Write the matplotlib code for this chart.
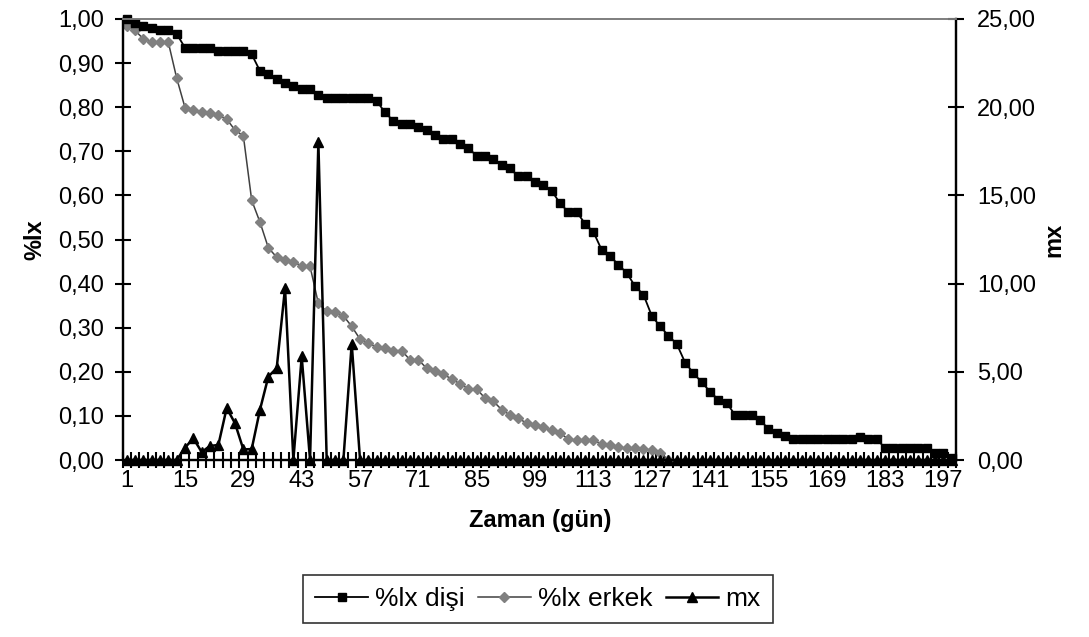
import numpy as np
import matplotlib
matplotlib.use("Agg")
import matplotlib.pyplot as plt
from matplotlib.ticker import FixedLocator, FuncFormatter

plt.rcParams['font.family'] = ['Liberation Sans', 'DejaVu Sans']

# categories: days 1,3,5,...,199
days = list(range(1, 200, 2))

lx_disi = [1.000, 0.990, 0.985, 0.980, 0.975, 0.975, 0.966,
           0.935, 0.935, 0.935, 0.935,
           0.928, 0.928, 0.928, 0.928,
           0.920, 0.882, 0.875, 0.864, 0.856, 0.848, 0.842, 0.842, 0.827,
           0.820, 0.820, 0.820, 0.820, 0.820, 0.820,
           0.814, 0.788, 0.769, 0.761, 0.761, 0.755, 0.748, 0.736, 0.729, 0.729,
           0.716, 0.708, 0.689, 0.689, 0.682, 0.670, 0.661, 0.643, 0.643, 0.630,
           0.623, 0.610, 0.582, 0.562, 0.562, 0.536, 0.517, 0.476, 0.462, 0.443,
           0.424, 0.394, 0.375, 0.327, 0.303, 0.282, 0.263, 0.221, 0.197, 0.176,
           0.155, 0.136, 0.129, 0.102, 0.102, 0.102, 0.091, 0.070, 0.062, 0.055,
           0.047, 0.047, 0.047, 0.047, 0.047, 0.047, 0.047, 0.047,
           0.053, 0.047, 0.047,
           0.027, 0.027, 0.027, 0.027, 0.027, 0.027,
           0.016, 0.016, 0.005]

lx_erkek = [0.983, 0.974, 0.955, 0.947, 0.947, 0.947, 0.866, 0.799, 0.793, 0.788,
            0.786, 0.782, 0.773, 0.748, 0.735, 0.589, 0.539, 0.481, 0.460, 0.453,
            0.448, 0.441, 0.439, 0.355, 0.337, 0.335, 0.327, 0.303, 0.274, 0.265,
            0.256, 0.254, 0.248, 0.248, 0.227, 0.227, 0.208, 0.201, 0.195, 0.183,
            0.173, 0.161, 0.161, 0.140, 0.133, 0.114, 0.102, 0.095, 0.083, 0.080,
            0.074, 0.067, 0.061, 0.047, 0.045, 0.045, 0.045, 0.036, 0.034, 0.029,
            0.027, 0.027, 0.024, 0.023, 0.017, 0.000]

mx = [0, 0, 0, 0, 0, 0, 0, 0.70, 1.23, 0.45,
      0.80, 0.85, 2.95, 2.08, 0.60, 0.62, 2.86, 4.73, 5.21, 9.75,
      0, 5.87, 0, 18.0, 0, 0, 0, 6.6] + [0] * 72

x_label_step = 7

n = len(days)
x = np.arange(n)
erk = np.full(n, np.nan)
erk[:len(lx_erkek)] = lx_erkek

W, H = 1089, 637
fig = plt.figure(figsize=(W / 100, H / 100), dpi=100)
L, R, T, B = 122.5, 956, 19, 460
ax = fig.add_axes([L / W, 1 - B / H, (R - L) / W, (B - T) / H])
ax2 = ax.twinx()

ax.plot(x, lx_disi, color='black', lw=1.3, marker='s', ms=6, mfc='black',
        mec='black', label='%lx dişi', clip_on=False, zorder=3)
ax.plot(x, erk, color='#404040', lw=1.1, marker='D', ms=4.6, mfc='#808080',
        mec='#808080', label='%lx erkek', clip_on=False, zorder=2)
ax2.plot(x, mx, color='black', lw=1.8, marker='^', ms=7.5, mfc='black',
         mec='black', label='mx', clip_on=False, zorder=4)

ax.set_xlim(-0.5, n - 0.5)
ax.set_ylim(0, 1.0)
ax2.set_ylim(0, 25)

fmt = FuncFormatter(lambda v, p: f"{v:.2f}".replace('.', ','))
ax.set_yticks(np.arange(0, 1.0001, 0.1))
ax.yaxis.set_major_formatter(fmt)
ax2.set_yticks(np.arange(0, 25.001, 5))
ax2.yaxis.set_major_formatter(fmt)

major_pos = list(range(0, n, x_label_step))
ax.xaxis.set_major_locator(FixedLocator(major_pos))
ax.set_xticklabels([str(days[i]) for i in major_pos])
ax.xaxis.set_minor_locator(FixedLocator(np.arange(-0.5, n, 1.0)))

fs = 17
ax.tick_params(axis='x', which='major', length=0, labelsize=fs, pad=7)
ax.tick_params(axis='x', which='minor', direction='inout', length=11, width=1.5)
ax.tick_params(axis='y', which='major', direction='inout', length=12, width=1.5,
               labelsize=fs, pad=7.5)
ax2.tick_params(axis='y', which='major', direction='inout', length=12, width=1.5,
                labelsize=fs, pad=9)

for a in (ax, ax2):
    a.spines['top'].set_color('#808080')
    a.spines['top'].set_linewidth(1.3)
    a.spines['left'].set_linewidth(1.6)
    a.spines['right'].set_linewidth(1.6)
    a.spines['bottom'].set_linewidth(1.6)
    a.set_facecolor('none')

ax.set_ylabel('%lx', fontsize=fs, fontweight='bold')
ax.yaxis.set_label_coords((46 - L) / (R - L), 0.5)
ax2.set_ylabel('mx', fontsize=fs, fontweight='bold')
ax2.yaxis.set_label_coords((1042 - L) / (R - L), 0.5)
fig.text(540 / W, 1 - 520 / H, 'Zaman (gün)', ha='center', va='center',
         fontsize=fs, fontweight='bold')

h1, l1 = ax.get_legend_handles_labels()
h2, l2 = ax2.get_legend_handles_labels()
leg = fig.legend(h1 + h2, l1 + l2, loc='center', ncol=3,
                 bbox_to_anchor=(538 / W, 1 - 599 / H), frameon=True,
                 fancybox=False, edgecolor='black', fontsize=19,
                 handlelength=2.0, columnspacing=0.5, handletextpad=0.27,
                 borderpad=0.45, borderaxespad=0)
leg.get_frame().set_linewidth(1.2)

fig.savefig('out.png', dpi=100)
